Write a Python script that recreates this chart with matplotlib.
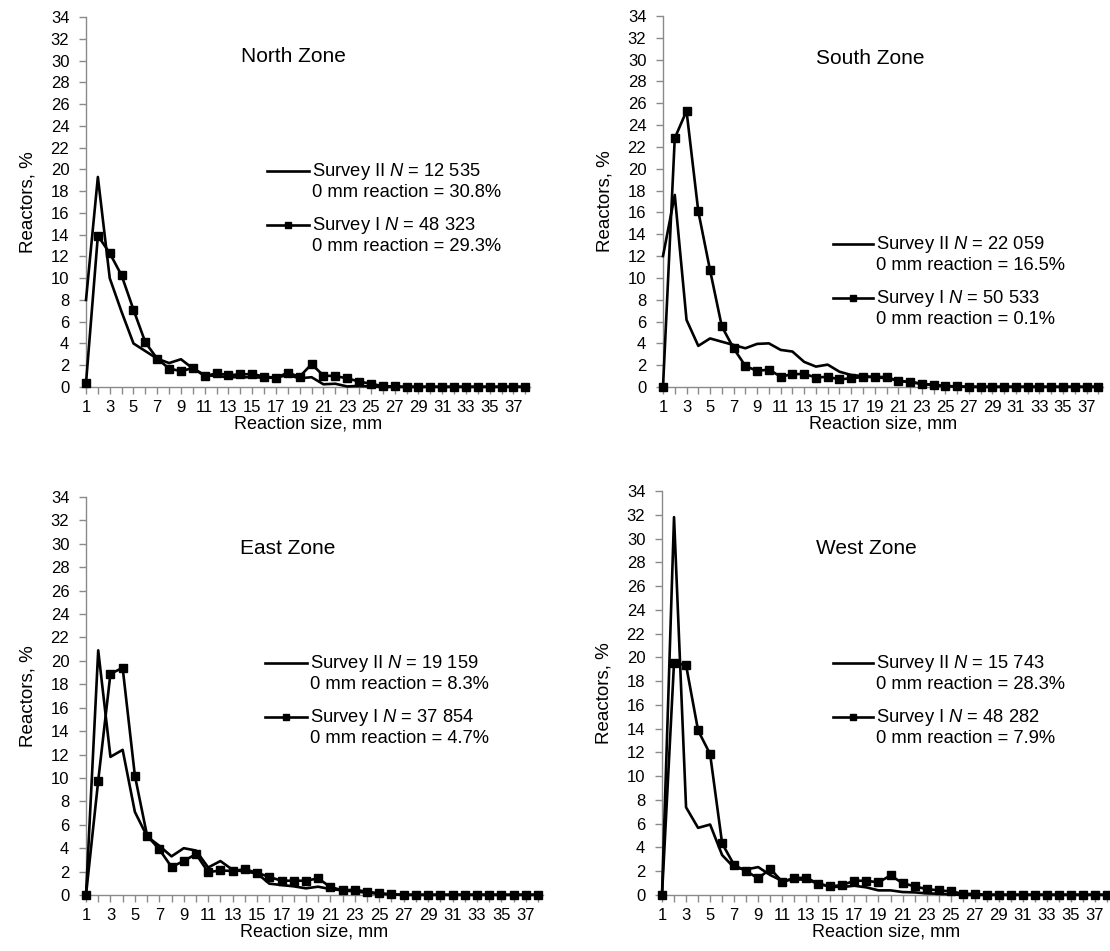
import matplotlib
matplotlib.use("Agg")
import matplotlib.pyplot as plt
from matplotlib.lines import Line2D

plt.rcParams['font.family'] = ['Liberation Sans', 'DejaVu Sans']
plt.rcParams['mathtext.fontset'] = 'custom'
plt.rcParams['mathtext.it'] = 'Liberation Sans:italic'
plt.rcParams['mathtext.rm'] = 'Liberation Sans'

sizes = list(range(1, 39))

north_s2 = [8.0, 19.3, 10.0, 6.9, 4.0, 3.3, 2.6, 2.2, 2.55, 1.7, 1.1, 1.0, 0.9, 0.9, 0.9, 0.85, 0.85, 1.1, 0.8, 0.9,
            0.25, 0.3, 0.05, 0.1, 0.05, 0, 0, 0, 0, 0, 0, 0, 0, 0, 0, 0, 0, 0]
north_s1 = [0.35, 13.9, 12.3, 10.25, 7.1, 4.1, 2.6, 1.7, 1.45, 1.75, 1.0, 1.25, 1.1, 1.15, 1.2, 0.95, 0.86, 1.3, 0.95, 2.1,
            1.05, 1.0, 0.8, 0.5, 0.3, 0.08, 0.05, 0.03, 0.03, 0.03, 0.03, 0.03, 0.03, 0.03, 0.03, 0.03, 0.03, 0.03]
south_s2 = [12.0, 17.6, 6.15, 3.77, 4.45, 4.15, 3.85, 3.55, 3.95, 4.0, 3.4, 3.25, 2.3, 1.87, 2.05, 1.4, 1.1, 1.0, 0.9, 0.8,
            0.6, 0.45, 0.3, 0.2, 0.1, 0.05, 0, 0, 0, 0, 0, 0, 0, 0, 0, 0, 0, 0]
south_s1 = [0.0, 22.8, 25.3, 16.1, 10.7, 5.55, 3.55, 1.93, 1.47, 1.6, 0.95, 1.17, 1.2, 0.87, 0.93, 0.7, 0.8, 0.92, 0.92, 0.92,
            0.55, 0.45, 0.3, 0.15, 0.07, 0.05, 0.03, 0.03, 0.03, 0.03, 0.03, 0.03, 0.03, 0.03, 0.03, 0.03, 0.03, 0.03]
east_s2 = [0.0, 20.9, 11.8, 12.4, 7.1, 5.0, 4.2, 3.3, 4.0, 3.8, 2.35, 2.9, 2.15, 2.0, 1.85, 0.97, 0.85, 0.74, 0.57, 0.71,
           0.5, 0.4, 0.3, 0.2, 0.1, 0.05, 0, 0, 0, 0, 0, 0, 0, 0, 0, 0, 0, 0]
east_s1 = [0.0, 9.77, 18.9, 19.4, 10.2, 5.07, 3.9, 2.4, 2.9, 3.5, 1.95, 2.1, 2.05, 2.2, 1.9, 1.54, 1.22, 1.22, 1.22, 1.42,
           0.68, 0.4, 0.45, 0.28, 0.14, 0.06, 0.03, 0.03, 0.03, 0.03, 0.03, 0.03, 0.03, 0.03, 0.03, 0.03, 0.03, 0.03]
west_s2 = [0.0, 31.8, 7.38, 5.65, 5.93, 3.36, 2.3, 2.15, 2.35, 1.68, 1.18, 1.3, 1.3, 0.95, 0.7, 0.67, 0.78, 0.64, 0.39, 0.39,
           0.25, 0.22, 0.14, 0.1, 0.05, 0, 0, 0, 0, 0, 0, 0, 0, 0, 0, 0, 0, 0]
west_s1 = [0.0, 19.55, 19.35, 13.85, 11.86, 4.34, 2.52, 2.01, 1.4, 2.2, 1.12, 1.43, 1.45, 0.95, 0.72, 0.84, 1.2, 1.2, 1.06, 1.65,
           1.0, 0.73, 0.5, 0.39, 0.31, 0.11, 0.08, 0.03, 0.03, 0.03, 0.03, 0.03, 0.03, 0.03, 0.03, 0.03, 0.03, 0.03]

titles = ["North Zone", "South Zone", "East Zone", "West Zone"]
s2_labels = ["Survey II $N$ = 12 535\n0 mm reaction = 30.8%",
             "Survey II $N$ = 22 059\n0 mm reaction = 16.5%",
             "Survey II $N$ = 19 159\n0 mm reaction = 8.3%",
             "Survey II $N$ = 15 743\n0 mm reaction = 28.3%"]
s1_labels = ["Survey I $N$ = 48 323\n0 mm reaction = 29.3%",
             "Survey I $N$ = 50 533\n0 mm reaction = 0.1%",
             "Survey I $N$ = 37 854\n0 mm reaction = 4.7%",
             "Survey I $N$ = 48 282\n0 mm reaction = 7.9%"]
series2 = [north_s2, south_s2, east_s2, west_s2]
series1 = [north_s1, south_s1, east_s1, west_s1]

W, H = 1110, 951
fig = plt.figure(figsize=(W / 100, H / 100), dpi=100)

# axes boxes in pixels: left, top(y=34), right, bottom(y=0), xmax
boxes = [(86, 17, 530, 387, 38.4),
         (663, 16, 1103, 387, 38.4),
         (86, 497, 543, 895, 38.4),
         (662, 491, 1110, 895, 38.25)]
# title centre, legend line start/end, text x, row y (survey II), row y (survey I)
legend_pos = [((293, 57), 267, 309, 312, 171, 225),
              ((870, 58), 833, 873, 876, 244, 298),
              ((288, 548), 265, 307, 310, 663, 717),
              ((866, 548), 833, 873, 876, 663, 717)]

axis_grey = '#8a8a8a'

def fx(px):
    return px / W

def fy(py):
    return 1 - py / H

for i in range(4):
    l, t, r, b, xmax = boxes[i]
    ax = fig.add_axes([fx(l), fy(b), fx(r - l), (b - t) / H])
    ax.plot(sizes, series2[i], color='black', lw=1.9, clip_on=False, zorder=3)
    ax.plot(sizes, series1[i], color='black', lw=1.9, marker='s', ms=6, clip_on=False, zorder=4)
    ax.set_xlim(1, xmax)
    ax.set_ylim(0, 34)
    ax.set_yticks(range(0, 35, 2))
    ax.set_xticks(sizes)
    ax.set_xticklabels([str(s) if s % 2 == 1 else '' for s in sizes])
    for side in ['top', 'right']:
        ax.spines[side].set_visible(False)
    for side in ['left', 'bottom']:
        ax.spines[side].set_color(axis_grey)
        ax.spines[side].set_linewidth(1.0)
    ax.tick_params(axis='both', colors=axis_grey, labelcolor='black', labelsize=12, length=5, width=1, direction='out')
    ax.tick_params(axis='y', pad=7)
    ax.tick_params(axis='x', pad=4)
    ax.set_xlabel("Reaction size, mm", fontsize=13, labelpad=1)
    ax.set_ylabel("Reactors, %", fontsize=13.5, labelpad=10)
    ax.patch.set_visible(False)

    (tx, ty), lx0, lx1, txx, r2, r1 = legend_pos[i]
    fig.text(fx(tx), fy(ty), titles[i], fontsize=15, ha='center', va='center')
    fig.add_artist(Line2D([fx(lx0), fx(lx1)], [fy(r2), fy(r2)], color='black', lw=1.9))
    fig.add_artist(Line2D([fx(lx0), fx(lx1)], [fy(r1), fy(r1)], color='black', lw=1.9))
    fig.add_artist(Line2D([fx((lx0 + lx1) / 2)], [fy(r1)], color='black', marker='s', ms=4.5, lw=0))
    fig.text(fx(txx), fy(r2 - 10), s2_labels[i], fontsize=13.2, ha='left', va='top', linespacing=1.15)
    fig.text(fx(txx), fy(r1 - 10), s1_labels[i], fontsize=13.2, ha='left', va='top', linespacing=1.15)

fig.savefig("out.png", dpi=100)
